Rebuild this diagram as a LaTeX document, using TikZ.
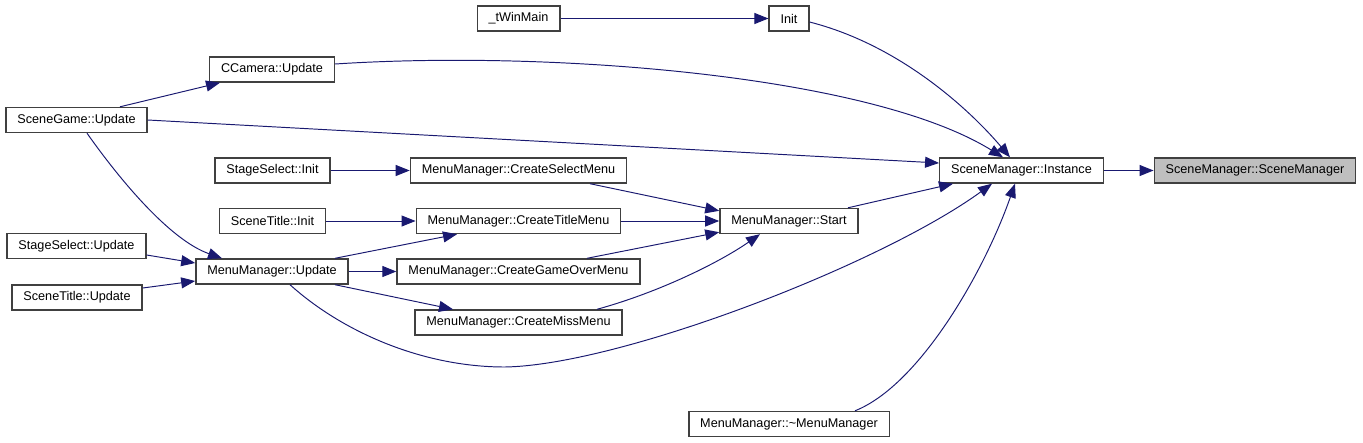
\documentclass[tikz,border=0pt]{standalone}
\usepackage{fontspec}
\setmainfont{Liberation Sans}
\usetikzlibrary{arrows.meta}
\definecolor{edgeblue}{HTML}{191970}
\definecolor{boxgray}{HTML}{BFBFBF}

\begin{document}
\begin{tikzpicture}[x=0.02cm,y=-0.02cm,
  fn/.style={draw=black!75,line width=0.8pt,fill=white,minimum height=0.5cm,inner xsep=6.5pt,inner ysep=0pt,font=\fontsize{7.2}{8}\selectfont},
  cur/.style={fn,fill=boxgray},
  call/.style={draw=edgeblue,line width=0.55pt,-{Triangle[length=0.28cm,width=0.22cm]}}]
\useasboundingbox (0,0) rectangle (1363,443);
% functions
\node[fn] (tWinMain) at (518.5,18.5) {\_tWinMain};
\node[fn] (init) at (789,18.5) {Init};
\node[fn] (camUpd) at (272,69.5) {CCamera::Update};
\node[fn] (gameUpd) at (76.5,120) {SceneGame::Update};
\node[fn] (inst) at (1021.5,170.5) {SceneManager::Instance};
\node[cur] (smCtor) at (1255,170.5) {SceneManager::SceneManager};
\node[fn] (stageInit) at (272.5,170.5) {StageSelect::Init};
\node[fn] (mkSelect) at (518.5,170.5) {MenuManager::CreateSelectMenu};
\node[fn] (titleInit) at (272.5,221) {SceneTitle::Init};
\node[fn] (mkTitle) at (518.5,221) {MenuManager::CreateTitleMenu};
\node[fn] (mmStart) at (789,221) {MenuManager::Start};
\node[fn] (stageUpd) at (76.5,246) {StageSelect::Update};
\node[fn] (mmUpd) at (272,271.5) {MenuManager::Update};
\node[fn] (titleUpd) at (77,297.5) {SceneTitle::Update};
\node[fn] (mkOver) at (518.5,271.5) {MenuManager::CreateGameOverMenu};
\node[fn] (mkMiss) at (518.5,322.5) {MenuManager::CreateMissMenu};
\node[fn] (mmDtor) at (789,424) {MenuManager::\textasciitilde MenuManager};
% calls
\draw[call] (tWinMain.east) -- (init.west);
\draw[call] ([yshift=-0.07cm]init.east) .. controls (900,45) and (970,110) .. ([xshift=-0.23cm]inst.north);
\draw[call] ([yshift=0.11cm]camUpd.east) .. controls (550,50) and (870,75) .. ([xshift=-0.37cm]inst.north);
\draw[call] ([xshift=0.87cm]gameUpd.north) -- ([xshift=-1.04cm]camUpd.south);
\draw[call] (gameUpd.east) -- ([yshift=0.15cm]inst.west);
\draw[call] ([xshift=0.21cm]gameUpd.south) .. controls (120,180) and (170,240) .. ([xshift=-1.0cm]mmUpd.north);
\draw[call] (stageInit.east) -- (mkSelect.west);
\draw[call] (titleInit.east) -- (mkTitle.west);
\draw[call] ([xshift=1.43cm]mkSelect.south) -- ([yshift=-0.06cm]mmStart.north west);
\draw[call] (mkTitle.east) -- (mmStart.west);
\draw[call] ([xshift=1.37cm]mkOver.north) -- ([yshift=0.04cm]mmStart.south west);
\draw[call] ([xshift=1.57cm]mkMiss.north) .. controls (660,292) and (720,262) .. ([xshift=-0.58cm]mmStart.south);
\draw[call] ([xshift=1.18cm]mmStart.north) -- ([xshift=-1.37cm]inst.south);
\draw[call] ([xshift=1.26cm]mmUpd.north) -- ([xshift=-1.23cm]mkTitle.south);
\draw[call] (mmUpd.east) -- (mkOver.west);
\draw[call] ([xshift=1.26cm]mmUpd.south) -- ([xshift=-1.31cm]mkMiss.north);
\draw[call] ([xshift=0.36cm]mmUpd.south) .. controls (340,330) and (420,367) .. (505,367)
  .. controls (620,365) and (880,265) .. ([xshift=-0.59cm]inst.south);
\draw[call] ([yshift=-0.18cm]stageUpd.east) -- ([yshift=0.17cm]mmUpd.west);
\draw[call] ([yshift=0.19cm]titleUpd.east) -- ([yshift=-0.19cm]mmUpd.west);
\draw[call] ([xshift=1.32cm]mmDtor.north) .. controls (920,385) and (985,270) .. ([xshift=-0.13cm]inst.south);
\draw[call] (inst.east) -- (smCtor.west);
\end{tikzpicture}
\end{document}
